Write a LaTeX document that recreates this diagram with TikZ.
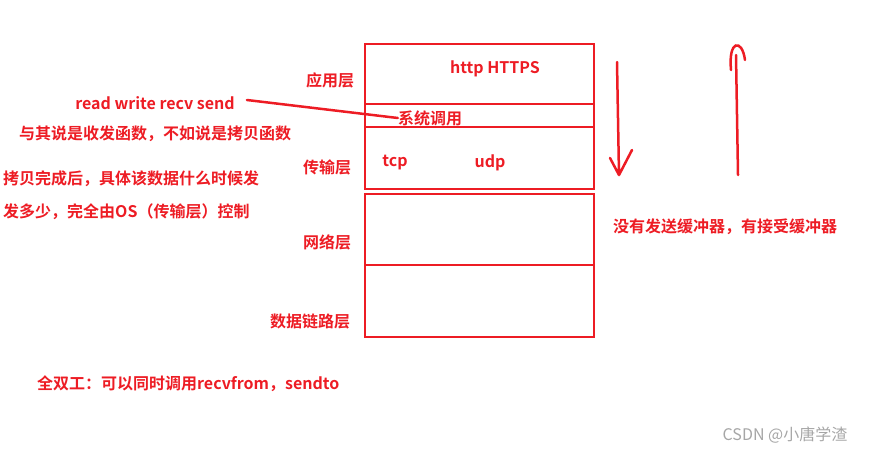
\documentclass[tikz,border=0pt]{standalone}
\usepackage{fontspec}
\setmainfont{Noto Sans CJK SC}[BoldFont={* Bold}]
\usetikzlibrary{positioning}
\definecolor{pen}{RGB}{237,28,36}
\tikzset{
  lbl/.style={text=pen, font=\bfseries\fontsize{16}{19}\selectfont, inner sep=0pt},
  layer/.style={draw=pen, line width=2.2pt},
  pen/.style={draw=pen, line width=2.5pt, line cap=round}
}
\begin{document}
\begin{tikzpicture}[x=1pt,y=-1pt]
\useasboundingbox (0,0) rectangle (869,453);

% stack of layers
\draw [layer] (365,44) rectangle (594,104);
\draw [layer] (365,104) rectangle (594,127);
\draw [layer] (365,127) rectangle (594,189);
\draw [layer] (365,194) rectangle (594,265);
\draw [layer] (365,265) rectangle (594,337);

\node [lbl] (app) at (330,80) {应用层};
\node [lbl] (http) at (495,69) {http HTTPS};
\node [lbl] (sys) at (430,118) {系统调用};
\node [lbl] (trans) at (327,167) {传输层};
\node [lbl] (tcp) at (395,163) {tcp};
\node [lbl] (udp) at (490,163) {udp};
\node [lbl] (net) at (327,242) {网络层};
\node [lbl] (link) at (310,321) {数据链路层};

% notes
\node [lbl] (rw) at (155,103) {read write recv send};
\node [lbl] (copy) at (155,134) {与其说是收发函数，不如说是拷贝函数};
\node [lbl, anchor=west] (os1) at (3,179) {拷贝完成后，具体该数据什么时候发};
\node [lbl, anchor=west] (os2) at (3,212) {发多少，完全由OS（传输层）控制};
\node [lbl, anchor=west] (duplex) at (37,384) {全双工：可以同时调用recvfrom，sendto};
\node [lbl, anchor=west] (buf) at (613,227) {没有发送缓冲器，有接受缓冲器};
\node [text=gray!70, font=\fontsize{16}{19}\selectfont] (mark) at (785,435) {CSDN @小唐学渣};

\draw [pen] (rw.east) ++(12,-3) -- (sys.west);

% hand drawn arrows
\coordinate (d1) at (617,62);
\coordinate (d2) at (619,175);
\draw [pen] (d1) -- (d2) (d2) -- (610,158) (d2) -- (632,150);
\coordinate (u1) at (738,175);
\coordinate (u2) at (736,55);
\draw [pen] (u1) -- (u2);
\draw [pen] (731,70) .. controls (728,40) and (742,38) .. (745,60);
\end{tikzpicture}
\end{document}
